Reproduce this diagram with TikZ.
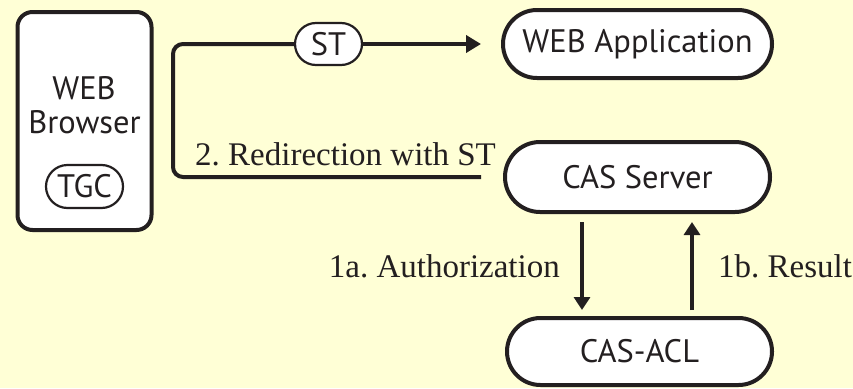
\documentclass[tikz,border=0pt]{standalone}
\usepackage{fontspec}
\setmainfont{Liberation Serif}
\newfontfamily\diasans{PT Sans}
\usetikzlibrary{arrows.meta}
\definecolor{bgyellow}{RGB}{255,255,214}
\definecolor{ink}{RGB}{35,31,32}
\begin{document}
\frenchspacing
\begin{tikzpicture}[x=1pt,y=-1pt,
  sansfont/.style={font=\diasans\fontsize{32.5}{34}\selectfont,text=ink},
  stadium/.style={sansfont,draw=ink,line width=4pt,fill=white,rounded corners=#1,inner sep=0pt},
  tag/.style={sansfont,draw=ink,line width=2.2pt,fill=white,rounded corners=#1,inner sep=0pt},
  flow/.style={draw=ink,line width=4pt},
  lbl/.style={font=\fontsize{33}{36}\selectfont,text=ink,inner sep=0pt}
]
\fill[bgyellow] (0,0) rectangle (853,388);
\useasboundingbox (0,0) rectangle (853,388);
% browser
\node[draw=ink,line width=4pt,fill=white,rounded corners=15pt,minimum width=134pt,minimum height=218pt] (browser) at (84.5,121) {};
\node[sansfont,anchor=base,inner sep=0pt] (bweb) at (84,99) {WEB};
\node[sansfont,anchor=base,inner sep=0pt] (bbrowser) at (84.5,133) {Browser};
\node[tag=21.5pt,minimum width=77pt,minimum height=43pt] (tgc) at (84.5,186.5) {TGC};
% right nodes
\node[stadium=34pt,minimum width=269pt,minimum height=68pt] (app) at (637.5,44) {WEB Application};
\node[stadium=35pt,minimum width=265pt,minimum height=70pt] (cas) at (637.5,177) {CAS Server};
\node[stadium=33.5pt,minimum width=265pt,minimum height=67pt] (acl) at (639.5,351.5) {CAS-ACL};
\node[tag=21pt,minimum width=67pt,minimum height=42pt] (st) at (328.5,44) {ST};
% connector
\coordinate (casin) at ([xshift=-22pt]cas.west);
\coordinate (stout) at ([xshift=-20pt]app.west |- st.east);
\draw[flow,rounded corners=10pt] (casin) -- (173,177) -- (173,44) -- (st.west);
\draw[flow,-{Triangle[length=15pt,width=17pt]}] (st.east) -- (stout);
\node[lbl,anchor=base west] (redir) at (195,165) {2. Redirection with ST};
% vertical arrows
\coordinate (a1) at (582,222);
\coordinate (a2) at (582,310);
\coordinate (b1) at (692,310);
\coordinate (b2) at (692,222);
\draw[flow,-{Triangle[length=13pt,width=16pt]}] (a1) -- (a2);
\draw[flow,-{Triangle[length=13pt,width=16pt]}] (b1) -- (b2);
\node[lbl,anchor=base east] (auth) at (560,277) {1a. Authorization};
\node[lbl,anchor=base west] (res) at (718,277) {1b. Result};
\end{tikzpicture}
\end{document}
